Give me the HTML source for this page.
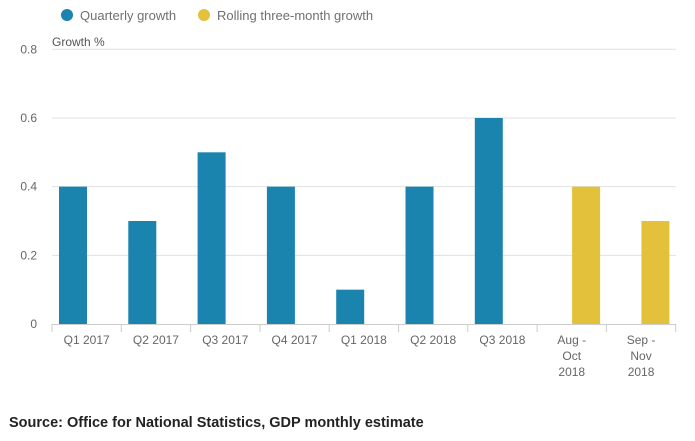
<!DOCTYPE html>
<html><head><meta charset="utf-8"><style>
body{margin:0;background:#fff;width:695px;height:436px;overflow:hidden;font-family:"Liberation Sans",sans-serif}
svg text{font-family:"Liberation Sans",sans-serif}
</style></head><body>
<svg id="c" width="695" height="436">
<g>
<circle cx="67" cy="15" r="6" fill="#1a83ae"/>
<text x="80" y="20" font-size="13" fill="#707070">Quarterly growth</text>
<circle cx="204" cy="15" r="6" fill="#e3c13a"/>
<text x="217" y="20" font-size="13" fill="#707070">Rolling three-month growth</text>
</g>
<text x="52" y="46" font-size="12" fill="#555">Growth %</text>
<g id="grid"></g><g id="bars"></g><g id="xa"></g>
<text x="9" y="427" font-size="14.5" font-weight="bold" fill="#222">Source: Office for National Statistics, GDP monthly estimate</text>
</svg>
<script>
const categories=[["Q1 2017"],["Q2 2017"],["Q3 2017"],["Q4 2017"],["Q1 2018"],["Q2 2018"],["Q3 2018"],["Aug -","Oct","2018"],["Sep -","Nov","2018"]];
const quarterly=[0.4,0.3,0.5,0.4,0.1,0.4,0.6,null,null];
const rolling=[null,null,null,null,null,null,null,0.4,0.3];
const yTicks=[0,0.2,0.4,0.6,0.8];
const yTickLabels=["0","0.2","0.4","0.6","0.8"];
const NS="http://www.w3.org/2000/svg";
const x0=52,bw=69.3,y0=324,yTop=49.3,yMax=0.8;
const xEnd=x0+categories.length*bw;
const y=v=>y0-(v/yMax)*(y0-yTop);
const xb=i=>x0+i*bw;
function mk(tag,attrs,parent,txt){const e=document.createElementNS(NS,tag);for(const k in attrs)e.setAttribute(k,attrs[k]);if(txt!==undefined)e.textContent=txt;document.getElementById(parent).appendChild(e);return e;}
yTicks.forEach((t,i)=>{
 if(t>0){const g=mk('line',{x1:52,x2:xEnd,y1:y(t),y2:y(t),stroke:'#e0e0e0','stroke-width':1},'grid');
 
 }
 const l=mk('text',{x:37,y:y(t)+4,'font-size':12,fill:'#666','text-anchor':'end'},'grid',yTickLabels[i]);
 
 
});
const ax=mk('line',{x1:52,x2:xEnd,y1:y0+0.5,y2:y0+0.5,stroke:'#ccc'},'xa');


for(let i=0;i<=categories.length;i++){
 const tk=mk('line',{x1:xb(i),x2:xb(i),y1:y0,y2:y0+8,stroke:'#ccc'},'xa');
 
 
}
categories.forEach((c,i)=>{
 const t=mk('text',{x:xb(i)+bw/2,y:344,'font-size':12,fill:'#666','text-anchor':'middle'},'xa');
 
 
 c.forEach((line,j)=>{const s=document.createElementNS(NS,'tspan');s.setAttribute('x',xb(i)+bw/2);s.setAttribute('dy',j?16:0);s.textContent=line;t.appendChild(s);});
 if(quarterly[i]!=null){const b=mk('rect',{x:xb(i)+7,y:y(quarterly[i]),width:28,height:y0-y(quarterly[i]),fill:'#1a83ae'},'bars');
 
 }
 if(rolling[i]!=null){const b=mk('rect',{x:xb(i)+35,y:y(rolling[i]),width:28,height:y0-y(rolling[i]),fill:'#e3c13a'},'bars');
 
 }
});
</script>
</body></html>
